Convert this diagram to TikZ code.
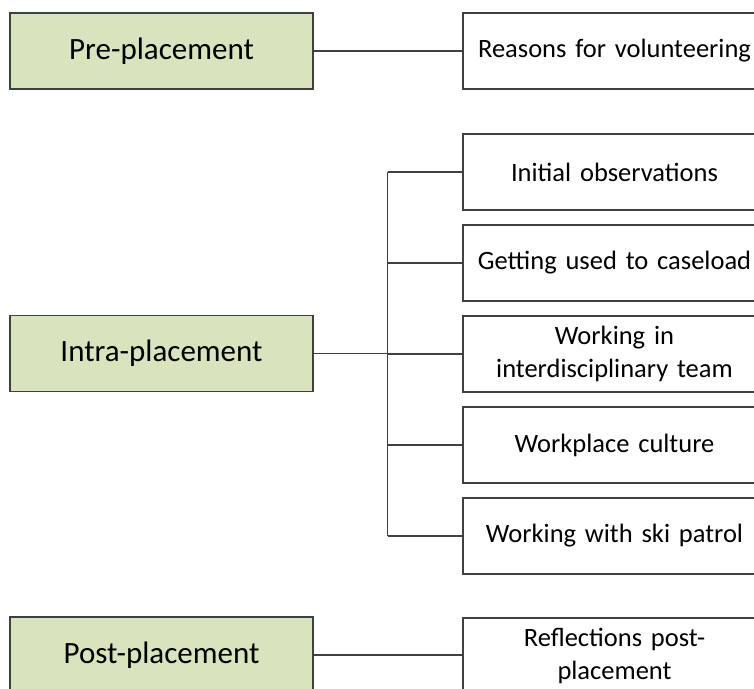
\documentclass[tikz,border=0pt]{standalone}
\usepackage{fontspec}
\setmainfont{Carlito}
\usetikzlibrary{positioning}
\definecolor{phasegreen}{RGB}{215,228,189}
\definecolor{boxline}{RGB}{64,64,64}
\definecolor{linkgray}{RGB}{64,64,64}

\begin{document}
\begin{tikzpicture}[x=1pt, y=-1pt,
  phase/.style={draw=boxline, fill=phasegreen, line width=1.4pt, minimum width=303pt, minimum height=76pt, inner sep=0pt, font=\fontsize{31}{37}\selectfont},
  theme/.style={draw=boxline, fill=white, line width=1.4pt, minimum width=303pt, minimum height=76pt, text width=292pt, align=center, inner sep=0pt, font=\fontsize{26.5}{32.5}\selectfont},
  link/.style={draw=linkgray, line width=1.4pt}]
  \useasboundingbox (0,0) rectangle (754,688);
  \clip (0,0) rectangle (754,688);

  % phases
  \node[phase] (pre) at (161.5,51) {Pre-placement};
  \node[phase] (intra) at (161.5,353.5) {Intra-placement};
  \node[phase] (post) at (161.5,655) {Post-placement};

  % themes
  \node[theme] (reasons) at (614.5,51) {Reasons for volunteering};
  \node[theme] (initial) at (614.5,172) {Initial observations};
  \node[theme, below=13.6pt of initial] (caseload) {Getting used to caseload};
  \node[theme, below=13.6pt of caseload] (team) {Working in\\interdisciplinary team};
  \node[theme, below=13.6pt of team] (culture) {Workplace culture};
  \node[theme, below=13.6pt of culture] (patrol) {Working with ski patrol};
  \node[theme] (reflect) at (614.5,656) {Reflections post-\\placement};

  % connectors
  \draw[link] (pre) -- (reasons);
  \draw[link] (post.east) -- (post.east -| reflect.west);
  \coordinate (bus) at ([xshift=74pt]intra.east);
  \draw[link] (intra.east) -- (bus);
  \draw[link] (bus |- initial.west) -- (bus |- patrol.west);
  \foreach \t in {initial, caseload, team, culture, patrol}
    \draw[link] (bus |- \t.west) -- (\t.west);
\end{tikzpicture}
\end{document}
